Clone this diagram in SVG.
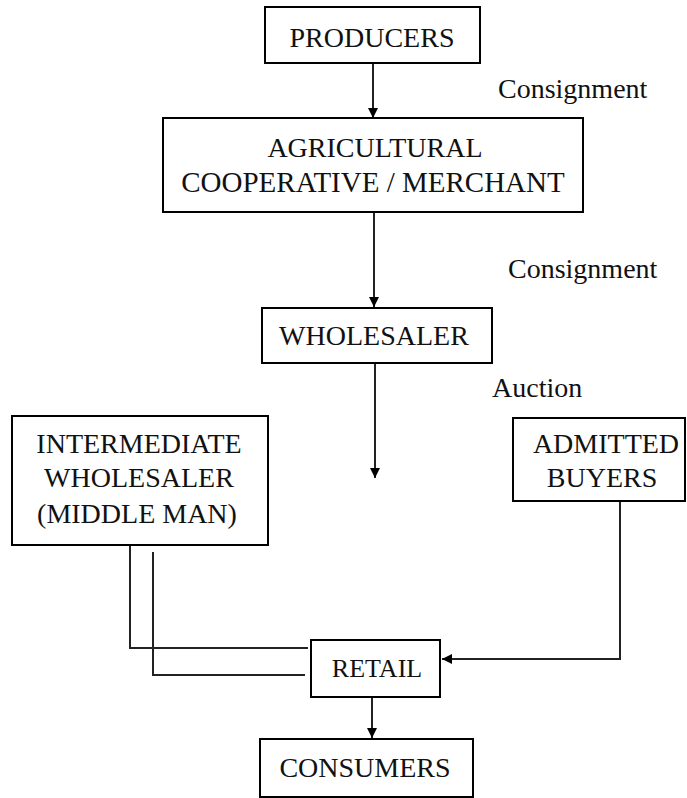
<svg xmlns="http://www.w3.org/2000/svg" width="687" height="798" viewBox="0 0 687 798">
<defs>
<style>
.box{fill:#fff;stroke:#000;stroke-width:2}
.t{font-family:"Liberation Serif","Times New Roman",serif;font-size:28px;fill:#111;text-anchor:middle}
.l{font-family:"Liberation Serif","Times New Roman",serif;font-size:28px;fill:#111}
.c{fill:none;stroke:#222;stroke-width:2}
</style>
<marker id="ah" viewBox="0 0 10 10" refX="10" refY="5" markerWidth="5" markerHeight="5" orient="auto" markerUnits="strokeWidth">
<path d="M0,0 L10,5 L0,10 z" fill="#000"/>
</marker>
</defs>
<rect width="687" height="798" fill="#fff"/>
<g id="connectors">
<path class="c" d="M373,63 V118" marker-end="url(#ah)"/>
<path class="c" d="M374,212 V307" marker-end="url(#ah)"/>
<path class="c" d="M375,363 V478" marker-end="url(#ah)"/>
<path class="c" d="M130,545 V648 H308"/>
<path class="c" d="M153,552 V675 H305"/>
<path class="c" d="M620,501 V659 H442" marker-end="url(#ah)"/>
<path class="c" d="M372,697 V738" marker-end="url(#ah)"/>
</g>
<g id="producers">
<rect class="box" x="265" y="7" width="215" height="56"/>
<text class="t" x="372" y="47">PRODUCERS</text>
</g>
<g id="agricultural">
<rect class="box" x="163" y="118" width="420" height="94"/>
<text class="t" x="375" y="157">AGRICULTURAL</text>
<text class="t" x="373" y="192" style="font-size:29px">COOPERATIVE / MERCHANT</text>
</g>
<g id="wholesaler">
<rect class="box" x="262" y="308" width="230" height="55"/>
<text class="t" x="374" y="345">WHOLESALER</text>
</g>
<g id="intermediate">
<rect class="box" x="12" y="416" width="256" height="129"/>
<text class="t" x="139" y="453">INTERMEDIATE</text>
<text class="t" x="139" y="487">WHOLESALER</text>
<text class="t" x="137" y="523">(MIDDLE MAN)</text>
</g>
<g id="admitted">
<rect class="box" x="513" y="418" width="172" height="83"/>
<text class="t" x="606" y="453">ADMITTED</text>
<text class="t" x="602" y="487">BUYERS</text>
</g>
<g id="retail">
<rect class="box" x="311" y="640" width="129" height="57"/>
<text class="t" x="377" y="677" style="font-size:26px">RETAIL</text>
</g>
<g id="consumers">
<rect class="box" x="260" y="739" width="213" height="58"/>
<text class="t" x="365" y="777">CONSUMERS</text>
</g>
<g id="labels">
<text class="l" x="498" y="98">Consignment</text>
<text class="l" x="508" y="278">Consignment</text>
<text class="l" x="492" y="397">Auction</text>
</g>
</svg>
